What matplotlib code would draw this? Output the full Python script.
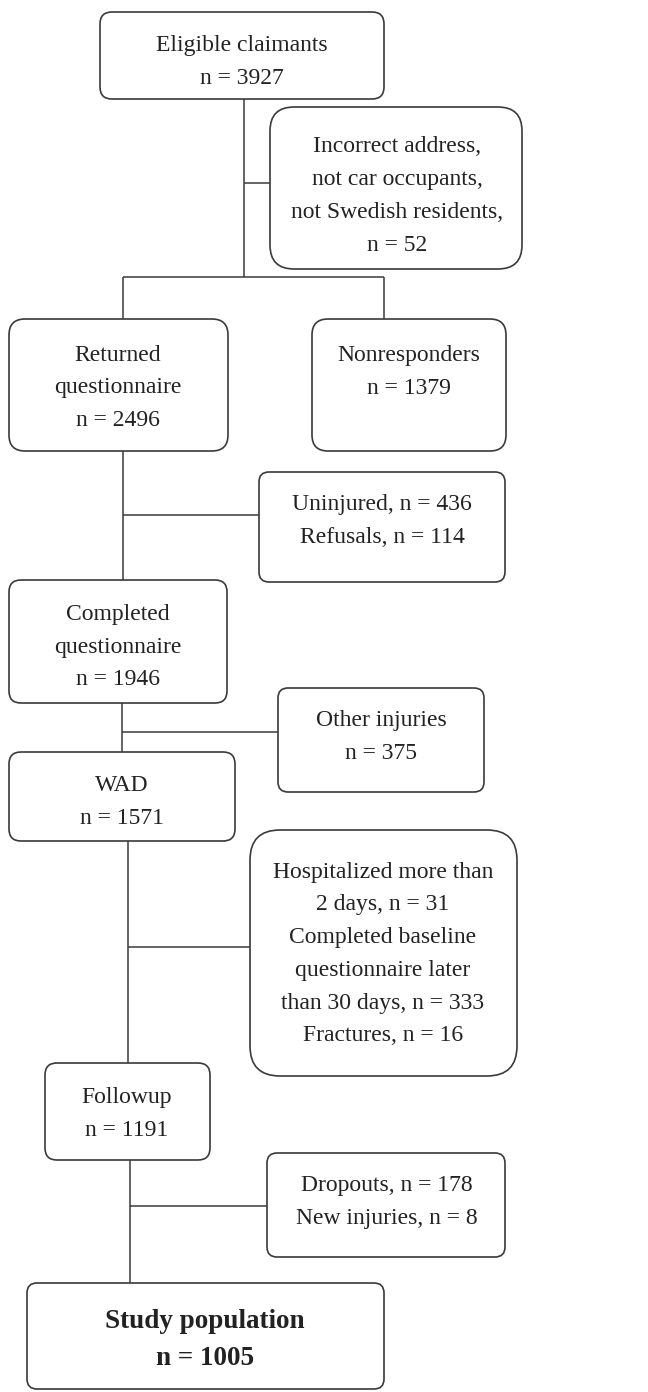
import matplotlib
matplotlib.use("Agg")
import matplotlib.pyplot as plt
from matplotlib.patches import FancyBboxPatch

# ---- data ----
main_labels = ["Eligible claimants", "Returned\nquestionnaire", "Completed\nquestionnaire",
               "WAD", "Followup", "Study population"]
main_n = [3927, 2496, 1946, 1571, 1191, 1005]

side_labels = [
    "Incorrect address,\nnot car occupants,\nnot Swedish residents,\nn = {}",
    "Nonresponders\nn = {}",
    "Uninjured, n = {}\nRefusals, n = {}",
    "Other injuries\nn = {}",
    "Hospitalized more than\n2 days, n = {}\nCompleted baseline\nquestionnaire later\nthan 30 days, n = {}\nFractures, n = {}",
    "Dropouts, n = {}\nNew injuries, n = {}",
]
side_n = [[52], [1379], [436, 114], [375], [31, 333, 16], [178, 8]]

# ---- layout (pixels, y downward) ----
# (x0, y0, x1, y1, rounding, text_x, text_y)
main_layout = [
    (100, 12, 384, 99, 12, 242, 62),
    (9, 319, 228, 451, 16, 118, 388),
    (9, 580, 227, 703, 12, 118, 647),
    (9, 752, 235, 841, 12, 122, 802),
    (45, 1063, 210, 1160, 12, 127, 1114),
    (27, 1283, 384, 1389, 10, 205, 1340),
]
side_layout = [
    (270, 107, 522, 269, 24, 397, 196),
    (312, 319, 506, 451, 16, 409, 372),
    (259, 472, 505, 582, 10, 382, 521),
    (278, 688, 484, 792, 10, 381, 737),
    (250, 830, 517, 1076, 30, 383, 954),
    (267, 1153, 505, 1257, 10, 387, 1202),
]
connectors = [
    ((244, 99), (244, 277)), ((244, 183), (270, 183)),
    ((123, 277), (384, 277)), ((123, 277), (123, 319)), ((384, 277), (384, 319)),
    ((123, 451), (123, 580)), ((123, 515), (259, 515)),
    ((122, 703), (122, 752)), ((122, 732), (278, 732)),
    ((128, 841), (128, 1063)), ((128, 947), (250, 947)),
    ((130, 1160), (130, 1283)), ((130, 1206), (267, 1206)),
]

W, H = 648, 1392
fig = plt.figure(figsize=(W / 100, H / 100), dpi=100)
ax = fig.add_axes([0, 0, 1, 1])
ax.set_xlim(0, W)
ax.set_ylim(H, 0)
ax.axis("off")

ec = "#3a3a3a"
font = ["Liberation Serif", "DejaVu Serif"]

def box(x0, y0, x1, y1, r, lw=1.2):
    p = FancyBboxPatch((x0, y0), x1 - x0, y1 - y0,
                       boxstyle=f"round,pad=0,rounding_size={r}",
                       fc="white", ec=ec, lw=lw, zorder=2)
    ax.add_patch(p)

for (a, b) in connectors:
    ax.plot([a[0], b[0]], [a[1], b[1]], color=ec, lw=1.1, zorder=1,
            solid_capstyle="butt")

for i, (lab, n) in enumerate(zip(main_labels, main_n)):
    x0, y0, x1, y1, r, tx, ty = main_layout[i]
    box(x0, y0, x1, y1, r)
    last = i == len(main_labels) - 1
    ax.text(tx, ty, f"{lab}\nn = {n}", ha="center", va="center",
            family=font, fontsize=19.5 if last else 17,
            fontweight="bold" if last else "normal",
            linespacing=1.66 if last else 1.73, color="#222222", zorder=3)

for i, (lab, ns) in enumerate(zip(side_labels, side_n)):
    x0, y0, x1, y1, r, tx, ty = side_layout[i]
    box(x0, y0, x1, y1, r)
    ax.text(tx, ty, lab.format(*ns), ha="center", va="center",
            family=font, fontsize=17, linespacing=1.73, color="#222222", zorder=3)

fig.savefig("out.png", dpi=100, facecolor="white")
